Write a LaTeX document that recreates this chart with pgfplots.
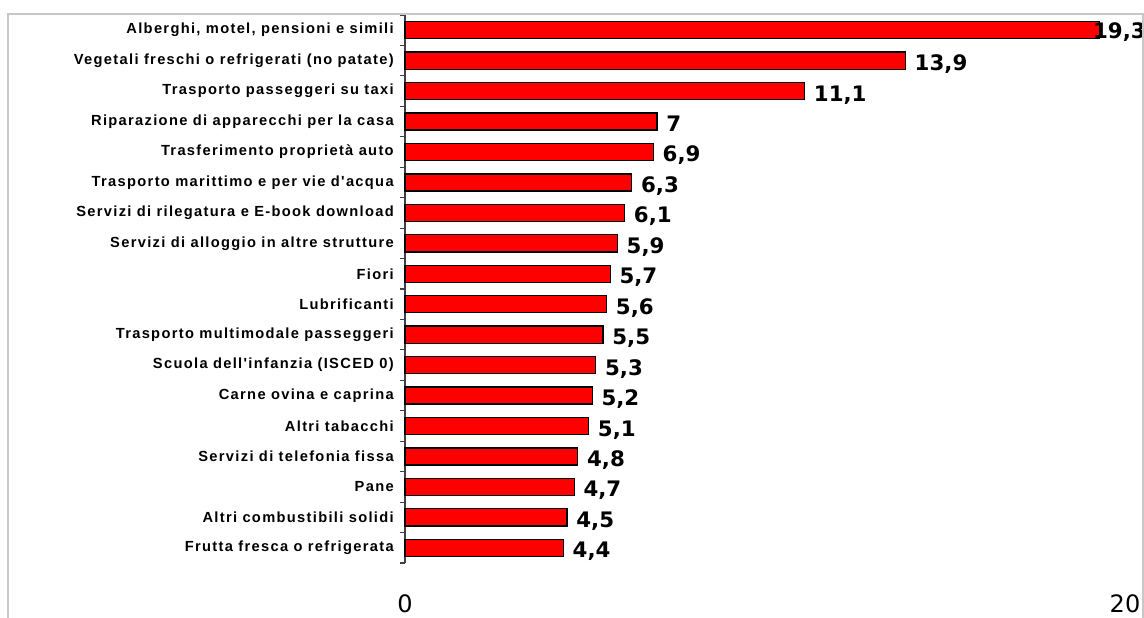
\documentclass[border=0pt]{standalone}
\usepackage{fontspec}
\usepackage{pgfplots}
\pgfplotsset{compat=1.18}
\setmainfont{Liberation Sans}
\newfontfamily\labfont{Liberation Sans}[Ligatures=TeXOff, LetterSpace=9]
\newfontfamily\valfont{DejaVu Sans}
\definecolor{barred}{RGB}{255,0,0}
\definecolor{framegray}{RGB}{200,200,200}
\begin{document}
\begin{tikzpicture}
  \begin{axis}[
    at={(0,0)}, anchor=south west,
    scale only axis, width=540pt, height=411pt,
    xbar, bar width=0.56, bar shift=0pt,
    xmin=0, xmax=20, ymin=-0.5, ymax=17.5,
    clip=false,
    axis x line*=bottom, axis y line*=left,
    x axis line style={draw=none},
    y axis line style={draw=black!75, line width=0.8pt},
    /pgf/number format/assume math mode=true,
    /pgf/number format/use comma,
    xtick={0,20},
    major x tick style={draw=none},
    xticklabel style={font=\valfont\fontsize{18}{18}\selectfont, inner sep=0pt, yshift=-19pt},
    ytick={0,...,17},
    yticklabels={
      {Frutta fresca o refrigerata},
      {Altri combustibili solidi},
      {Pane},
      {Servizi di telefonia fissa},
      {Altri tabacchi},
      {Carne ovina e caprina},
      {Scuola dell'infanzia (ISCED 0)},
      {Trasporto multimodale passeggeri},
      {Lubrificanti},
      {Fiori},
      {Servizi di alloggio in altre strutture},
      {Servizi di rilegatura e E-book download},
      {Trasporto marittimo e per vie d'acqua},
      {Trasferimento proprietà auto},
      {Riparazione di apparecchi per la casa},
      {Trasporto passeggeri su taxi},
      {Vegetali freschi o refrigerati (no patate)},
      {Alberghi, motel, pensioni e simili}},
    yticklabel style={font=\labfont\bfseries\fontsize{11}{11}\selectfont, inner sep=0pt, xshift=-4pt},
    major y tick style={draw=none},
    minor ytick={-0.5,0.5,...,17.5},
    minor y tick style={draw=black!75, line width=0.8pt},
    minor tick length=4pt,
    tick align=outside,
    nodes near coords,
    nodes near coords align={horizontal},
    every node near coord/.style={font=\valfont\bfseries\fontsize{16}{16}\selectfont,
      anchor=base west, inner sep=0pt, xshift=6.5pt, yshift=-7.5pt},
  ]
    \addplot[fill=barred, draw=black, line width=1pt] coordinates {
      (4.4,0) (4.5,1) (4.7,2) (4.8,3) (5.1,4) (5.2,5) (5.3,6) (5.5,7)
      (5.6,8) (5.7,9) (5.9,10) (6.1,11) (6.3,12) (6.9,13) (7,14)
      (11.1,15) (13.9,16)
    };
    \addplot[fill=barred, draw=black, line width=1pt,
      every node near coord/.append style={xshift=-12pt, yshift=1pt}] coordinates {
      (19.3,17)
    };
  \end{axis}
  \draw[framegray, line width=1.5pt]
    (-297.75pt,-45pt) -- (-297.75pt,411.75pt) -- (553.5pt,411.75pt) -- (553.5pt,-45pt);
  \pgfresetboundingbox
  \useasboundingbox (-303.75pt,-40.5pt) rectangle (554.25pt,422.25pt);
\end{tikzpicture}
\end{document}
